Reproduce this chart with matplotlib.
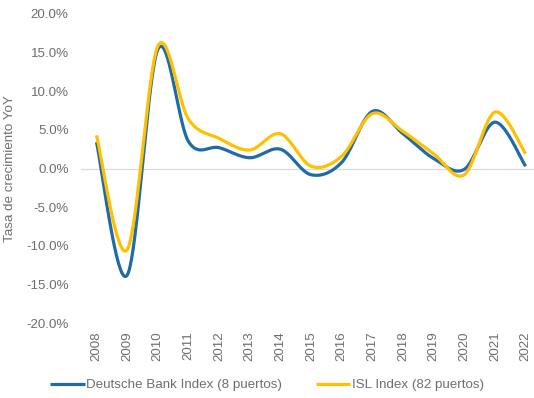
import numpy as np
import matplotlib
matplotlib.use("Agg")
import matplotlib.pyplot as plt

years = [str(y) for y in range(2008, 2023)]
deutsche_bank = [3.4, -13.8, 15.4, 3.5, 2.7, 1.4, 2.5, -0.8, 0.8, 7.4, 4.5, 1.3, -0.1, 6.0, 0.3]
isl = [4.3, -10.5, 15.8, 6.4, 3.9, 2.4, 4.5, 0.3, 1.6, 7.1, 4.8, 1.9, -0.8, 7.3, 1.9]
y_ticks = [-20, -15, -10, -5, 0, 5, 10, 15, 20]

BLUE = "#1f6aa8"
GOLD = "#ffc000"
GRAY = "#6e6e6e"


def smooth(xs, ys, n=40):
    """Cubic Bezier smoothing through every point (control points at 1/6 of the neighbour span)."""
    xs = np.asarray(xs, float)
    ys = np.asarray(ys, float)
    px = np.concatenate([[xs[0]], xs, [xs[-1]]])
    py = np.concatenate([[ys[0]], ys, [ys[-1]]])
    out_x, out_y = [], []
    t = np.linspace(0, 1, n)
    for i in range(1, len(px) - 2):
        p0 = np.array([px[i], py[i]])
        p3 = np.array([px[i + 1], py[i + 1]])
        c1 = p0 + (np.array([px[i + 1], py[i + 1]]) - np.array([px[i - 1], py[i - 1]])) / 6
        c2 = p3 - (np.array([px[i + 2], py[i + 2]]) - np.array([px[i], py[i]])) / 6
        b = ((1 - t) ** 3)[:, None] * p0 + (3 * (1 - t) ** 2 * t)[:, None] * c1 \
            + (3 * (1 - t) * t ** 2)[:, None] * c2 + (t ** 3)[:, None] * p3
        out_x.extend(b[:, 0])
        out_y.extend(b[:, 1])
    return np.array(out_x), np.array(out_y)


plt.rcParams["font.family"] = ["Liberation Sans", "DejaVu Sans"]

fig = plt.figure(figsize=(5.34, 3.98), dpi=100)
ax = fig.add_axes([0.152, 0.188, 0.861, 0.777])

x = np.arange(len(years))
sx, sy = smooth(x, deutsche_bank)
ax.plot(sx, sy, color=BLUE, lw=2.3, solid_capstyle="butt", label="Deutsche Bank Index (8 puertos)", zorder=3)
sx, sy = smooth(x, isl)
ax.plot(sx, sy, color=GOLD, lw=2.3, solid_capstyle="butt", label="ISL Index (82 puertos)", zorder=4)

ax.axhline(0, color="#d9d9d9", lw=0.9, zorder=1)
ax.set_xlim(-0.5, len(years) - 0.5)
ax.set_ylim(-20, 20)
ax.set_yticks(y_ticks)
ax.set_yticklabels([f"{v:.1f}%" for v in y_ticks])
ax.set_xticks(x)
ax.set_xticklabels(years, rotation=90)
ax.tick_params(axis="both", length=0, colors=GRAY, labelsize=9.6)
ax.tick_params(axis="y", pad=9)
ax.tick_params(axis="x", pad=6)
for s in ax.spines.values():
    s.set_visible(False)

ax.set_ylabel("Tasa de crecimiento YoY", color=GRAY, fontsize=9.6, labelpad=7)

fig.legend(loc="center", bbox_to_anchor=(0.5, 0.032), ncol=2, frameon=False,
           fontsize=9.6, labelcolor=GRAY, handlelength=2.6, handletextpad=0.1,
           columnspacing=2.5)

fig.savefig("out.png", dpi=100, facecolor="white")
